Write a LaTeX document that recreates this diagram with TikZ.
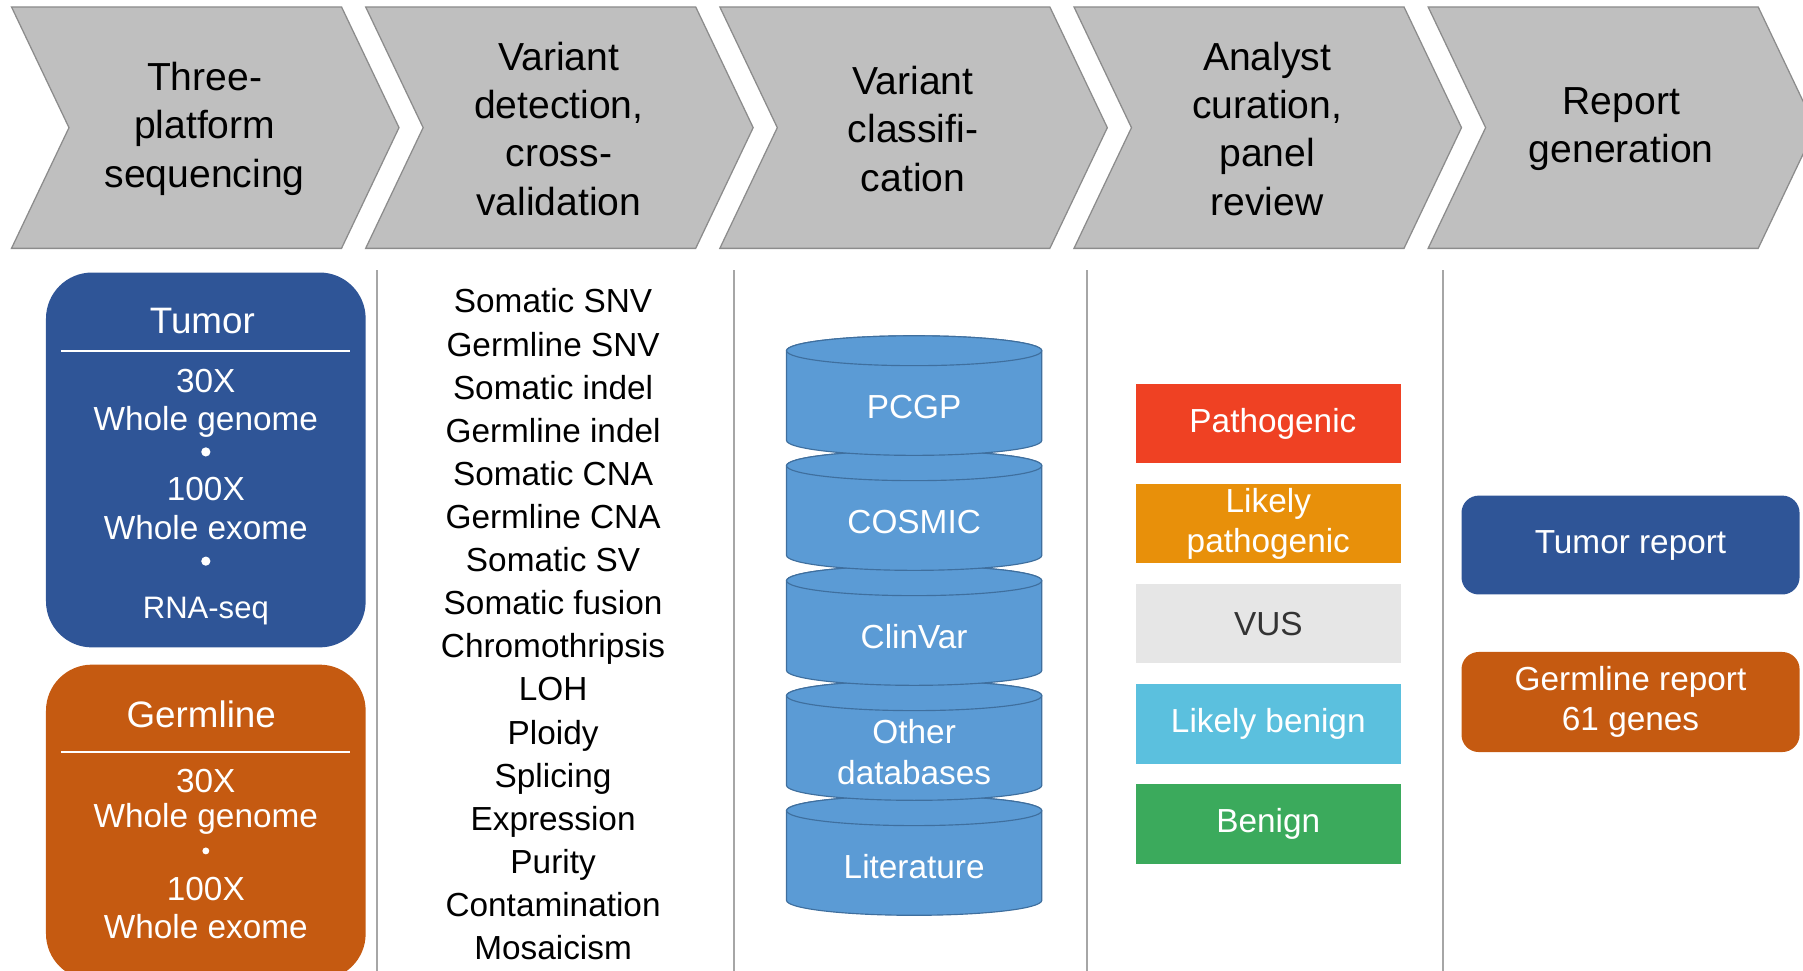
\documentclass[tikz,border=0pt]{standalone}
\usepackage{fontspec}
\setmainfont{Liberation Sans}
\usetikzlibrary{calc}

\definecolor{chevgray}{HTML}{BFBFBF}
\definecolor{chevline}{HTML}{8C8C8C}
\definecolor{sepgray}{HTML}{A6A6A6}
\definecolor{tumorblue}{HTML}{2F5597}
\definecolor{germorange}{HTML}{C55A11}
\definecolor{cylblue}{HTML}{5B9BD5}
\definecolor{cylline}{HTML}{3F6F9E}
\definecolor{pathored}{HTML}{EF4123}
\definecolor{lpathoorange}{HTML}{E8900A}
\definecolor{vusgray}{HTML}{E6E6E6}
\definecolor{lbencyan}{HTML}{5BC0DE}
\definecolor{bengreen}{HTML}{3BAA5C}
\definecolor{darktext}{HTML}{333333}

\tikzset{
  chevshape/.style={fill=chevgray, draw=chevline, line width=1.1pt},
  chevtext/.style={align=center, text=black, inner sep=0pt,
    font=\fontsize{34}{42}\selectfont},
  sepline/.style={draw=sepgray, line width=1.6pt},
  sampbox/.style={inner sep=0pt, rounded corners=40pt, minimum width=278pt},
  whitetext/.style={text=white, inner sep=0pt, align=center},
  dotmark/.style={circle, fill=white, inner sep=0pt},
  listtext/.style={align=center, text=black, inner sep=0pt,
    font=\fontsize{29}{37.5}\selectfont},
  cylbody/.style={fill=cylblue, draw=cylline, line width=1pt},
  cyltext/.style={text=white, inner sep=0pt, align=center,
    font=\fontsize{29}{36}\selectfont},
  catbox/.style={inner sep=0pt, minimum width=230pt, minimum height=69pt,
    text=white, align=center, font=\fontsize{29}{35}\selectfont},
  reportbox/.style={inner sep=0pt, minimum width=294pt, minimum height=86pt,
    rounded corners=15pt, text=white, align=center,
    font=\fontsize{29}{35}\selectfont},
}

\begin{document}
\begin{tikzpicture}[x=1pt, y=1pt]
\useasboundingbox (0,0) rectangle (1568,-844);

% ---- process chevrons ----
\foreach \L/\nm/\txt in {
  10/stepA/{Three-\\platform\\sequencing},
  318/stepB/{Variant\\detection,\\cross-\\validation},
  626/stepC/{Variant\\classifi-\\cation},
  934/stepD/{Analyst\\curation,\\panel\\review},
  1242/stepE/{Report\\generation}} {
  \path[chevshape] (\L,-6) -- ++(287,0) -- ++(50,-105) -- ++(-50,-105)
    -- ++(-287,0) -- ++(50,105) -- cycle;
  \node[chevtext] (\nm) at (\L+168,-112) {\txt};
}

% ---- column dividers ----
\foreach \x in {328,638,945,1255}
  \draw[sepline] (\x,-235) -- (\x,-844);

% ---- sequencing platforms ----
\node[sampbox, fill=tumorblue, minimum height=326pt] (tumor) at (179,-400) {};
\draw[white, line width=1.5pt] (53,-305) -- (304,-305);
\node[whitetext, font=\fontsize{32}{36}\selectfont] (tumorhead) at (176,-279) {Tumor};
\node[whitetext, font=\fontsize{29}{34}\selectfont] (tA) at (179,-331) {30X};
\node[whitetext, font=\fontsize{29}{34}\selectfont] (tB) at (179,-367) {Whole genome};
\node[dotmark, minimum size=8pt] (tC) at (179,-393) {};
\node[whitetext, font=\fontsize{29}{34}\selectfont] (tD) at (179,-425) {100X};
\node[whitetext, font=\fontsize{29}{34}\selectfont] (tE) at (179,-459) {Whole exome};
\node[dotmark, minimum size=8pt] (tF) at (179,-488) {};
\node[whitetext, font=\fontsize{27}{30}\selectfont] (tG) at (179,-531) {RNA-seq};

\node[sampbox, fill=germorange, minimum height=274pt] (germ) at (179,-715) {};
\draw[white, line width=1.5pt] (53,-654) -- (304,-654);
\node[whitetext, font=\fontsize{32}{36}\selectfont] (germhead) at (175,-621) {Germline};
\node[whitetext, font=\fontsize{29}{34}\selectfont] (gA) at (179,-679) {30X};
\node[whitetext, font=\fontsize{29}{34}\selectfont] (gB) at (179,-712) {Whole genome};
\node[dotmark, minimum size=6pt] (gC) at (179,-740) {};
\node[whitetext, font=\fontsize{29}{34}\selectfont] (gD) at (179,-773) {100X};
\node[whitetext, font=\fontsize{29}{34}\selectfont] (gE) at (179,-806) {Whole exome};

% ---- variant types ----
\node[listtext] (variants) at (481,-543) {Somatic SNV\\Germline SNV\\Somatic indel\\
  Germline indel\\Somatic CNA\\Germline CNA\\Somatic SV\\Somatic fusion\\
  Chromothripsis\\LOH\\Ploidy\\Splicing\\Expression\\Purity\\Contamination\\Mosaicism};

% ---- database stack (drawn bottom-up so upper drums overlap lower ones) ----
\foreach \i/\nm/\txt in {4/dbLit/Literature, 3/dbOther/{Other\\databases},
    2/dbClin/ClinVar, 1/dbCos/COSMIC, 0/dbPcgp/PCGP} {
  \pgfmathsetmacro\yt{-305-100*\i}
  \pgfmathsetmacro\yb{\yt-78}
  \path[cylbody] (684,\yt) -- (684,\yb)
    arc[start angle=180, end angle=360, x radius=111, y radius=13]
    -- (906,\yt)
    arc[start angle=0, end angle=180, x radius=111, y radius=13] -- cycle;
  \path[cylbody] (795,\yt) ellipse[x radius=111, y radius=13];
  \node[cyltext] (\nm) at (795,\yt-49) {\txt};
}

% ---- classification categories ----
\node[catbox, fill=pathored] (patho) at (1103,-368.5) {\hspace*{8pt}Pathogenic};
\node[catbox, fill=lpathoorange] (lpatho) at (1103,-455.5) {Likely\\pathogenic};
\node[catbox, fill=vusgray, text=darktext] (vus) at (1103,-542.5) {VUS};
\node[catbox, fill=lbencyan] (lben) at (1103,-629.5) {Likely benign};
\node[catbox, fill=bengreen] (ben) at (1103,-716.5) {Benign};

% ---- reports ----
\node[reportbox, fill=tumorblue] (trep) at (1418,-474) {Tumor report};
\node[reportbox, fill=germorange, minimum height=87pt] (grep) at (1418,-610.5)
  {Germline report\\61 genes};
\end{tikzpicture}
\end{document}
